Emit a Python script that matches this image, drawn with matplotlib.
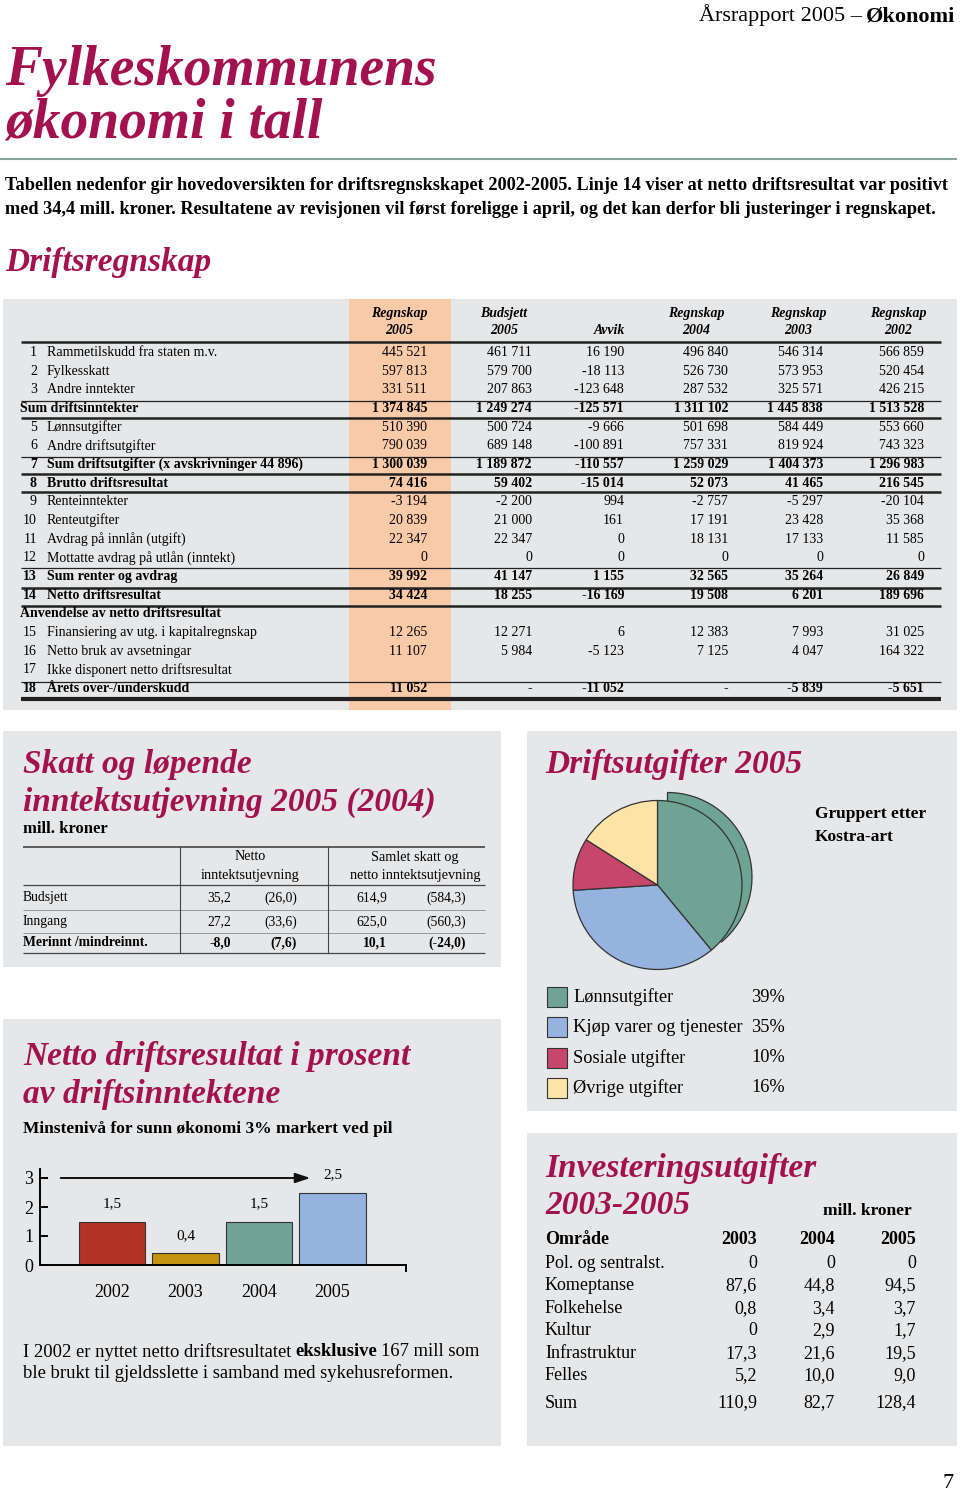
import numpy as np
import matplotlib
matplotlib.use('Agg')
import matplotlib.pyplot as plt
from matplotlib.patches import Rectangle

plt.rcParams['font.family'] = ['Liberation Serif', 'DejaVu Serif']

# ---------------- data ----------------
row_no = ['1', '2', '3', '', '5', '6', '7', '8', '9', '10', '11', '12', '13', '14', '', '15', '16', '17', '18']
row_txt = ['Rammetilskudd fra staten m.v.', 'Fylkesskatt', 'Andre inntekter', 'Sum driftsinntekter',
           'Lønnsutgifter', 'Andre driftsutgifter', 'Sum driftsutgifter (x avskrivninger 44 896)',
           'Brutto driftsresultat', 'Renteinntekter', 'Renteutgifter', 'Avdrag på innlån (utgift)',
           'Mottatte avdrag på utlån (inntekt)', 'Sum renter og avdrag', 'Netto driftsresultat',
           'Anvendelse av netto driftsresultat', 'Finansiering av utg. i kapitalregnskap',
           'Netto bruk av avsetningar', 'Ikke disponert netto driftsresultat', 'Årets over-/underskudd']
bold_rows = [3, 6, 7, 12, 13, 14, 18]
head1 = ['Regnskap', 'Budsjett', '', 'Regnskap', 'Regnskap', 'Regnskap']
head2 = ['2005', '2005', 'Avvik', '2004', '2003', '2002']
regnskap_2005 = ['445 521', '597 813', '331 511', '1 374 845', '510 390', '790 039', '1 300 039', '74 416',
                 '-3 194', '20 839', '22 347', '0', '39 992', '34 424', '', '12 265', '11 107', '', '11 052']
budsjett_2005 = ['461 711', '579 700', '207 863', '1 249 274', '500 724', '689 148', '1 189 872', '59 402',
                 '-2 200', '21 000', '22 347', '0', '41 147', '18 255', '', '12 271', '5 984', '', '-']
avvik = ['16 190', '-18 113', '-123 648', '-125 571', '-9 666', '-100 891', '-110 557', '-15 014',
         '994', '161', '0', '0', '1 155', '-16 169', '', '6', '-5 123', '', '-11 052']
regnskap_2004 = ['496 840', '526 730', '287 532', '1 311 102', '501 698', '757 331', '1 259 029', '52 073',
                 '-2 757', '17 191', '18 131', '0', '32 565', '19 508', '', '12 383', '7 125', '', '-']
regnskap_2003 = ['546 314', '573 953', '325 571', '1 445 838', '584 449', '819 924', '1 404 373', '41 465',
                 '-5 297', '23 428', '17 133', '0', '35 264', '6 201', '', '7 993', '4 047', '', '-5 839']
regnskap_2002 = ['566 859', '520 454', '426 215', '1 513 528', '553 660', '743 323', '1 296 983', '216 545',
                 '-20 104', '35 368', '11 585', '0', '26 849', '189 696', '', '31 025', '164 322', '', '-5 651']

tax_rows = ['Budsjett', 'Inngang', 'Merinnt /mindreinnt.']
netto_2005 = ['35,2', '27,2', '-8,0']
netto_2004 = ['(26,0)', '(33,6)', '(7,6)']
samlet_2005 = ['614,9', '625,0', '10,1']
samlet_2004 = ['(584,3)', '(560,3)', '(-24,0)']

years = ['2002', '2003', '2004', '2005']
netto_pct = [1.5, 0.4, 1.5, 2.5]
min_level = 3

pie_labels = ['Lønnsutgifter', 'Kjøp varer og tjenester', 'Sosiale utgifter', 'Øvrige utgifter']
pie_shares = [39, 35, 10, 16]

inv_areas = ['Pol. og sentralst.', 'Komeptanse', 'Folkehelse', 'Kultur', 'Infrastruktur', 'Felles']
inv_2003 = ['0', '87,6', '0,8', '0', '17,3', '5,2']
inv_2004 = ['0', '44,8', '3,4', '2,9', '21,6', '10,0']
inv_2005 = ['0', '94,5', '3,7', '1,7', '19,5', '9,0']
inv_sum = ['110,9', '82,7', '128,4']

# ---------------- style ----------------
crimson = '#a3124e'
grey = '#e6e7e9'
orange = '#f9caa8'
pie_colors = ['#6fa494', '#95b3df', '#c8466b', '#fde3a6']
bar_colors = ['#b33426', '#c4930f', '#6fa494', '#95b3df']

W, H = 960, 1494
fig = plt.figure(figsize=(W / 100, H / 100), dpi=100)
ax = fig.add_axes([0, 0, 1, 1])
ax.set_xlim(0, W)
ax.set_ylim(H, 0)
ax.axis('off')
rend = fig.canvas.get_renderer()


def px_axes(x0, y0, x1, y1):
    return fig.add_axes([x0 / W, 1 - y1 / H, (x1 - x0) / W, (y1 - y0) / H])


def panel(x0, y0, x1, y1, c=grey):
    ax.add_patch(Rectangle((x0, y0), x1 - x0, y1 - y0, color=c, lw=0, zorder=0))


def hline(y, x0, x1, lw, c='#222222'):
    ax.plot([x0, x1], [y, y], color=c, lw=lw, solid_capstyle='butt')


def title(x, y, s, size=24):
    ax.text(x, y, s, color=crimson, fontsize=size, fontweight='bold', fontstyle='italic', va='center')


# header
t = ax.text(955, 21, 'Økonomi', ha='right', va='baseline', fontsize=16, fontweight='bold')
w = t.get_window_extent(rend).width
ax.text(955 - w - 4, 21, 'Årsrapport 2005 –', ha='right', va='baseline', fontsize=16)
ax.text(5, 85, 'Fylkeskommunens', color=crimson, fontsize=40, fontweight='bold', fontstyle='italic', va='baseline')
ax.text(5, 137, 'økonomi i tall', color=crimson, fontsize=40, fontweight='bold', fontstyle='italic', va='baseline')
hline(159, 0, 957, 1.5, c='#86a69d')
ax.text(5, 186, 'Tabellen nedenfor gir hovedoversikten for driftsregnskskapet 2002-2005. Linje 14 viser at '
        'netto driftsresultat var positivt', fontsize=13.15, fontweight='bold', va='center')
ax.text(5, 209, 'med 34,4 mill. kroner. Resultatene av revisjonen vil først foreligge i april, og det kan derfor '
        'bli justeringer i regnskapet.', fontsize=13.15, fontweight='bold', va='center')
title(5, 263, 'Driftsregnskap')

# ---------------- main table ----------------
panel(3, 299, 957, 710)
panel(349, 299, 451, 710, orange)
cols = [regnskap_2005, budsjett_2005, avvik, regnskap_2004, regnskap_2003, regnskap_2002]
col_right = [427, 532, 624, 728, 823, 924]
head_x = [399, 504, 609, 696, 798, 898]
for j in range(6):
    ax.text(head_x[j], 313, head1[j], ha='center', va='center', fontsize=10, fontweight='bold', fontstyle='italic')
    ax.text(head_x[j], 331, head2[j], ha='center', va='center', fontsize=10, fontweight='bold', fontstyle='italic')
for i in range(len(row_txt)):
    y = 352.5 + i * 18.67
    fw = 'bold' if i in bold_rows else 'normal'
    if row_no[i]:
        ax.text(37, y, row_no[i], ha='right', va='center', fontsize=10, fontweight=fw)
        ax.text(47, y, row_txt[i], ha='left', va='center', fontsize=10, fontweight=fw)
    else:
        ax.text(20, y, row_txt[i], ha='left', va='center', fontsize=10, fontweight=fw)
    for j in range(6):
        ax.text(col_right[j], y, cols[j][i], ha='right', va='center', fontsize=10, fontweight=fw)
for y, lw in [(342, 1.8), (401, 0.9), (418, 1.8), (457, 0.9), (474, 1.8), (492, 1.8),
              (568, 0.9), (588, 1.8), (606, 1.8), (682, 0.9), (699, 3.0)]:
    hline(y, 21, 941, lw)

# ---------------- skatt panel ----------------
panel(3, 731, 501, 967)
title(23, 765, 'Skatt og løpende')
title(23, 802, 'inntektsutjevning 2005 (2004)')
ax.text(23, 829, 'mill. kroner', fontsize=12, fontweight='bold', va='center')
ax.text(250, 857, 'Netto', ha='center', va='center', fontsize=10.3)
ax.text(250, 876, 'inntektsutjevning', ha='center', va='center', fontsize=10.3)
ax.text(415, 857, 'Samlet skatt og', ha='center', va='center', fontsize=10.3)
ax.text(415, 876, 'netto inntektsutjevning', ha='center', va='center', fontsize=10.3)
tax_cols = [netto_2005, netto_2004, samlet_2005, samlet_2004]
tax_right = [231, 297, 387, 466]
for i, lab in enumerate(tax_rows):
    y = [898, 922, 943][i]
    fw = 'bold' if i == 2 else 'normal'
    ax.text(23, y, lab, va='center', fontsize=9.8, fontweight=fw)
    for j in range(4):
        ax.text(tax_right[j], y, tax_cols[j][i], ha='right', va='center', fontsize=9.8, fontweight=fw)
hline(847, 23, 485, 1.2, c='#444444')
hline(885, 23, 485, 0.9, c='#444444')
hline(910, 23, 485, 0.5, c='#777777')
hline(933, 23, 485, 0.5, c='#777777')
hline(953, 23, 485, 0.9, c='#444444')
for x in [180, 328]:
    ax.plot([x, x], [847, 953], color='#444444', lw=0.8)

# ---------------- netto driftsresultat panel ----------------
panel(3, 1019, 501, 1446)
title(23, 1057, 'Netto driftsresultat i prosent')
title(23, 1094, 'av driftsinntektene')
ax.text(23, 1129, 'Minstenivå for sunn økonomi 3% markert ved pil', fontsize=12.5, fontweight='bold', va='center')

bx = px_axes(40, 1265 - 3.3 * 29, 406, 1265)
bx.set_facecolor('none')
pos = np.arange(len(years))
bars = bx.bar(pos, netto_pct, width=0.91, color=bar_colors, edgecolor='#333333', linewidth=0.8)
bx.set_xlim(-0.98, 4.0)
bx.set_ylim(0, 3.3)
for sp in ['top', 'right']:
    bx.spines[sp].set_visible(False)
for sp in ['left', 'bottom']:
    bx.spines[sp].set_linewidth(1.4)
bx.set_yticks([0, 1, 2, 3])
bx.tick_params(axis='y', direction='in', length=6, width=1.4, labelsize=13, pad=5)
bx.set_xticks(pos, years)
bx.tick_params(axis='x', length=0, labelsize=13, pad=14)
bx.plot([1, 1], [0, -0.06], transform=bx.transAxes, color='black', lw=1.4, clip_on=False)
for b, v in zip(bars, netto_pct):
    bx.annotate(f'{v:.1f}'.replace('.', ','), (b.get_x() + b.get_width() / 2, v),
                xytext=(0, 13), textcoords='offset points', ha='center', va='center', fontsize=11)
bx.annotate('', xy=(0.746, min_level), xytext=(0.049, min_level),
            xycoords=('axes fraction', 'data'), textcoords=('axes fraction', 'data'),
            arrowprops=dict(arrowstyle='-|>,head_length=0.9,head_width=0.3', color='#111111', lw=1.4))

t1 = ax.text(23, 1352, 'I 2002 er nyttet netto driftsresultatet', va='center', fontsize=13.4)
x = 23 + t1.get_window_extent(rend).width + 4
t2 = ax.text(x, 1352, 'eksklusive', va='center', fontsize=13.4, fontweight='bold')
x += t2.get_window_extent(rend).width + 4
ax.text(x, 1352, '167 mill som', va='center', fontsize=13.4)
ax.text(23, 1373, 'ble brukt til gjeldsslette i samband med sykehusreformen.', va='center', fontsize=13.4)

# ---------------- pie panel ----------------
panel(527, 731, 957, 1111)
title(545, 765, 'Driftsutgifter 2005')
ax.text(815, 814, 'Gruppert etter', fontsize=12.5, fontweight='bold', va='center')
ax.text(815, 837, 'Kostra-art', fontsize=12.5, fontweight='bold', va='center')

cx, cy, r = 657.5, 885, 84.5
px = px_axes(cx - 1.25 * r, cy - 1.25 * r, cx + 1.25 * r, cy + 1.25 * r)
back, _ = px.pie(pie_shares, colors=pie_colors, startangle=90, counterclock=False,
                 center=(10 / r, 8 / r), wedgeprops=dict(edgecolor='#333333', linewidth=0.9))
for wdg in back[1:]:
    wdg.set_visible(False)
px.pie(pie_shares, colors=pie_colors, startangle=90, counterclock=False,
       wedgeprops=dict(edgecolor='#333333', linewidth=0.9))
px.set_xlim(-1.25, 1.25)
px.set_ylim(-1.25, 1.25)
px.set_aspect('equal')

for i, lab in enumerate(pie_labels):
    y = 997 + i * 30.3
    ax.add_patch(Rectangle((547, y - 10), 20, 20, facecolor=pie_colors[i], edgecolor='#333333', lw=0.8))
    ax.text(573, y, lab, va='center', fontsize=13.2)
    ax.text(785, y, f'{pie_shares[i]}%', ha='right', va='center', fontsize=13.2)

# ---------------- investering panel ----------------
panel(527, 1133, 957, 1446)
title(545, 1169, 'Investeringsutgifter')
title(545, 1206, '2003-2005')
ax.text(912, 1211, 'mill. kroner', ha='right', fontsize=12.5, fontweight='bold', va='center')
inv_right = [757, 835, 916]
ax.text(545, 1240, 'Område', va='center', fontsize=13, fontweight='bold')
for j, yr in enumerate(['2003', '2004', '2005']):
    ax.text(inv_right[j], 1240, yr, ha='right', va='center', fontsize=13, fontweight='bold')
inv_cols = [inv_2003, inv_2004, inv_2005]
for i, area in enumerate(inv_areas):
    y = 1263 + i * 22.6
    ax.text(545, y, area, va='center', fontsize=13)
    for j in range(3):
        ax.text(inv_right[j], y, inv_cols[j][i], ha='right', va='center', fontsize=13)
ax.text(545, 1403, 'Sum', va='center', fontsize=13)
for j in range(3):
    ax.text(inv_right[j], 1403, inv_sum[j], ha='right', va='center', fontsize=13)

ax.text(948, 1483, '7', ha='center', va='center', fontsize=16)

fig.savefig('out.png', dpi=100)
